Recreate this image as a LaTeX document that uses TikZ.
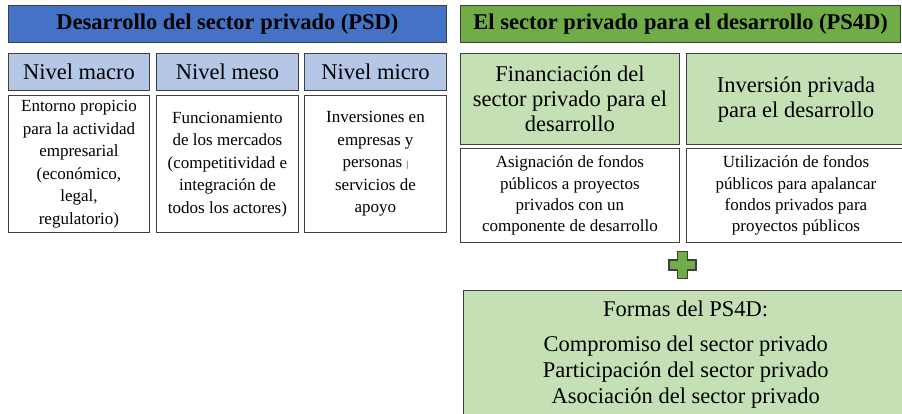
\documentclass[tikz,border=0pt]{standalone}
\usepackage{fontspec}
\setmainfont{Liberation Serif}

\definecolor{psdblue}{HTML}{4472C4}
\definecolor{lvlblue}{HTML}{B4C7E7}
\definecolor{psgreen}{HTML}{70AD47}
\definecolor{lvlgreen}{HTML}{C5E0B4}
\definecolor{edge}{HTML}{3F3F3F}

\begin{document}
\begin{tikzpicture}[
  x=1pt, y=-1pt,
  box/.style={draw=edge, line width=1.4pt, anchor=north west, inner sep=0pt, align=center},
  big/.style={font=\fontsize{22.5}{25}\selectfont},
  hdr/.style={box, minimum height=37pt, font=\fontsize{22.5}{25}\selectfont\bfseries},
  lvl/.style={box, big, fill=lvlblue, minimum width=141.5pt, minimum height=37pt},
  lvltxt/.style={box, fill=white, minimum width=141.5pt, minimum height=137pt,
    font=\fontsize{17}{22.5}\selectfont},
  ps/.style={box, big, fill=lvlgreen, minimum width=218.5pt, minimum height=91pt},
  pstxt/.style={box, fill=white, minimum width=218.5pt, minimum height=94pt,
    font=\fontsize{17}{21.3}\selectfont},
]

\useasboundingbox [fill=white] (0,0) rectangle (902,414);

% PSD
\node [hdr, fill=psdblue, minimum width=438.5pt] (psd) at (7.5,5) {Desarrollo del sector privado (PSD)};

\node [lvl] (macro) at (7.5,53) {Nivel macro};
\node [lvl] (meso) at (156,53) {Nivel meso};
\node [lvl] (micro) at (304,53) {Nivel micro};

\node [lvltxt] (macrotxt) at (7.5,95) {Entorno propicio\\para la actividad\\empresarial\\(económico,\\legal,\\regulatorio)};
\node [lvltxt] (mesotxt) at (156,95) {Funcionamiento\\de los mercados\\(competitividad e\\integración de\\todos los actores)};
\node [lvltxt] (microtxt) at (304,95) {Inversiones en\\empresas y\\personas {\fontsize{9}{9}\selectfont|}\\servicios de\\apoyo};

% PS4D
\node [hdr, fill=psgreen, minimum width=440pt] (ps4d) at (460,5) {El sector privado para el desarrollo (PS4D)};

\node [ps] (fin) at (460,53) {Financiación del\\sector privado para el\\desarrollo};
\node [ps] (inv) at (686,53) {Inversión privada\\para el desarrollo};

\node [pstxt] (fintxt) at (460,148) {Asignación de fondos\\públicos a proyectos\\privados con un\\componente de desarrollo};
\node [pstxt] (invtxt) at (686,148) {Utilización de fondos\\públicos para apalancar\\fondos privados para\\proyectos públicos};

\coordinate (plus) at (682.5,265);
\draw [draw=edge, line width=1.2pt, fill=psgreen, shift={(plus)}]
  (-5,-13.5) -- (5,-13.5) -- (5,-5) -- (13.5,-5) -- (13.5,5) -- (5,5) -- (5,13.5)
  -- (-5,13.5) -- (-5,5) -- (-13.5,5) -- (-13.5,-5) -- (-5,-5) -- cycle;

\node [box, big, fill=lvlgreen, minimum width=444pt, minimum height=128pt,
  font=\fontsize{22.5}{26}\selectfont] (formas) at (463,290)
  {Formas del PS4D:\\[9pt]Compromiso del sector privado\\Participación del sector privado\\Asociación del sector privado};

\end{tikzpicture}
\end{document}
